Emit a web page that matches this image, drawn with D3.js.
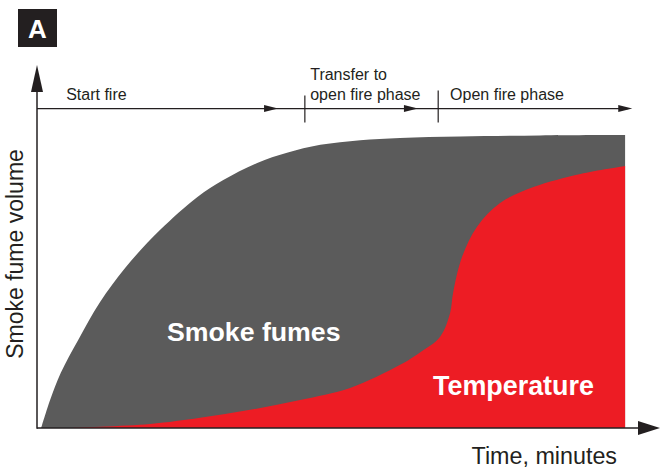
<!DOCTYPE html>
<html>
<head>
<meta charset="utf-8">
<script src="https://cdn.jsdelivr.net/npm/d3@7"></script>
<style>
  body { margin: 0; background: #fff; }
  text { font-family: "Liberation Sans", Arial, Helvetica, sans-serif; }
</style>
</head>
<body>
<svg id="graph" width="661" height="470"></svg>
<script>
// time (arbitrary 0-100) vs relative volume (0-100)
const smokeTime = [0.7, 2.2, 4.0, 6.9, 10.6, 14.8, 20.7, 26.9, 31.3, 37.0, 42.0, 47.6, 54.3, 61.0, 71.1, 84.5, 98.8];
const smokeValue = [0, 7.7, 15.2, 24.2, 34.7, 44.1, 54.6, 63.6, 68.3, 73.0, 75.8, 78.0, 79.3, 79.9, 80.3, 80.6, 80.7];

const tempTime = [5.5, 19.0, 27.4, 35.8, 44.2, 52.6, 61.0, 64.4, 67.7, 69.4, 69.9, 71.4, 73.9, 77.8, 83.4, 91.3, 98.8];
const tempValue = [0, 1.1, 2.8, 5.0, 7.7, 11.0, 17.4, 20.9, 25.1, 31.7, 37.2, 47.1, 55.4, 62.0, 66.4, 70.0, 72.2];

// phase bar: label, label position, arrow tip, boundary tick
const phases = [
    { lines: ['Start fire'], at: 4.9, tip: 40.5 },
    { lines: ['Transfer to', 'open fire phase'], at: 45.9, tip: 64.0 },
    { lines: ['Open fire phase'], at: 69.4, tip: 100 }
];
const phaseTicks = [45.0, 67.4];
const phaseLevel = 88;

(function () {
    let svg = d3.select('#graph');
    let x = d3.scaleLinear().domain([0, 105]).range([37, 662]),
        y = d3.scaleLinear().domain([0, 100]).range([428, 65]);

    let ink = '#231f20';

    let smoke = smokeTime.map((t, i) => ({ t: t, v: smokeValue[i] }));
    let temp = tempTime.map((t, i) => ({ t: t, v: tempValue[i] }));

    let area = d3.area()
        .curve(d3.curveCatmullRom.alpha(0.5))
        .x(d => x(d.t))
        .y0(y(0))
        .y1(d => y(d.v));

    svg.append('path').datum(smoke).attr('d', area).attr('fill', '#5b5b5b');
    svg.append('path').datum(temp).attr('d', area).attr('fill', '#ed1c24');

    // axes with arrowheads
    let x0 = x(0), yb = y(0);
    svg.append('line')
        .attr('x1', x0).attr('y1', yb).attr('x2', 645).attr('y2', yb)
        .attr('stroke', ink).attr('stroke-width', 1.5);
    svg.append('path')
        .attr('d', `M660,${yb}L638,${yb - 7}L638,${yb + 7}Z`)
        .attr('fill', ink);
    svg.append('line')
        .attr('x1', x0).attr('y1', yb + 0.75).attr('x2', x0).attr('y2', y(100) + 15)
        .attr('stroke', ink).attr('stroke-width', 1.5);
    svg.append('path')
        .attr('d', `M${x0},${y(100)}L${x0 - 6},${y(100) + 27}L${x0 + 6},${y(100) + 27}Z`)
        .attr('fill', ink);

    // phase bar
    let py = y(phaseLevel);
    svg.append('line')
        .attr('x1', x0).attr('y1', py).attr('x2', x(100) - 4).attr('y2', py)
        .attr('stroke', ink).attr('stroke-width', 1.2);
    svg.selectAll('.phase-tip')
        .data(phases)
        .enter().append('path')
        .attr('class', 'phase-tip')
        .attr('d', d => `M${x(d.tip)},${py}L${x(d.tip) - 14},${py - 3.5}L${x(d.tip) - 14},${py + 3.5}Z`)
        .attr('fill', ink);
    svg.selectAll('.phase-tick')
        .data(phaseTicks)
        .enter().append('line')
        .attr('class', 'phase-tick')
        .attr('x1', d => x(d)).attr('x2', d => x(d))
        .attr('y1', (d, i) => py - (i ? 18 : 13)).attr('y2', py + 14)
        .attr('stroke', ink).attr('stroke-width', 1.2);
    let label = svg.selectAll('.phase-label')
        .data(phases)
        .enter().append('text')
        .attr('class', 'phase-label')
        .attr('x', d => x(d.at))
        .attr('y', d => py - 9 - (d.lines.length - 1) * 20)
        .style('font-size', '16px')
        .attr('fill', ink);
    label.selectAll('tspan')
        .data(d => d.lines.map(s => ({ s: s, at: d.at })))
        .enter().append('tspan')
        .attr('x', d => x(d.at))
        .attr('dy', (d, i) => i ? 20 : 0)
        .text(d => d.s);

    // area labels
    svg.append('text')
        .attr('x', 167).attr('y', 341)
        .attr('fill', '#fff').style('font-weight', 'bold').style('font-size', '26.7px')
        .text('Smoke fumes');
    svg.append('text')
        .attr('x', 433).attr('y', 395)
        .attr('fill', '#fff').style('font-weight', 'bold').style('font-size', '26.9px')
        .text('Temperature');

    // axis titles
    svg.append('text')
        .attr('x', 617).attr('y', 464)
        .attr('text-anchor', 'end')
        .attr('fill', ink).style('font-size', '23.3px')
        .text('Time, minutes');
    svg.append('text')
        .attr('transform', 'translate(23,254) rotate(-90)')
        .attr('text-anchor', 'middle')
        .attr('fill', ink).style('font-size', '23px')
        .text('Smoke fume volume');

    // panel letter
    svg.append('rect')
        .attr('x', 18).attr('y', 9).attr('width', 39).attr('height', 38)
        .attr('fill', ink);
    svg.append('text')
        .attr('x', 37.5).attr('y', 38)
        .attr('text-anchor', 'middle')
        .attr('fill', '#fff').style('font-weight', 'bold').style('font-size', '26px')
        .text('A');
}());
</script>
</body>
</html>
